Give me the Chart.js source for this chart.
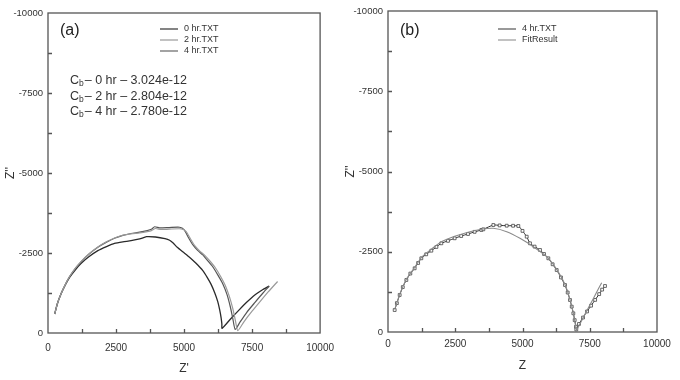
<!DOCTYPE html>
<html>
<head>
<meta charset="utf-8">
<script src="https://cdn.jsdelivr.net/npm/chart.js@4.4.0/dist/chart.umd.min.js"></script>
<style>
  html, body { margin: 0; padding: 0; background: #fff; }
  #wrap { position: relative; width: 680px; height: 380px; }
  .box { position: absolute; top: 0; width: 340px; height: 380px; }
</style>
</head>
<body>
<div id="wrap">
  <div class="box" style="left:0"><canvas id="chart-a"></canvas></div>
  <div class="box" style="left:340px"><canvas id="chart-b"></canvas></div>
</div>
<script>
// panel (a): Z' / Z'' pairs for each run
const hr0 = [[245,-594],[350,-930],[488,-1240],[640,-1510],[794,-1740],[1000,-1970],[1221,-2177],[1500,-2380],[1832,-2573],[2150,-2700],[2442,-2800],[2750,-2850],[3053,-2885],[3370,-2940],[3620,-3010],[3950,-3000],[4300,-2950],[4470,-2900],[4600,-2810],[4750,-2680],[4950,-2540],[5200,-2370],[5450,-2170],[5690,-1950],[5850,-1740],[5995,-1520],[6130,-1250],[6239,-980],[6310,-720],[6361,-480],[6390,-280],[6398,-146],[6700,-430],[7000,-700],[7300,-960],[7600,-1190],[7900,-1360],[8130,-1470]];
const hr2 = [[245,-594],[350,-930],[488,-1240],[640,-1520],[794,-1765],[1000,-2020],[1221,-2240],[1500,-2470],[1832,-2690],[2150,-2850],[2442,-2970],[2750,-3055],[3053,-3100],[3370,-3130],[3650,-3170],[3800,-3200],[3950,-3265],[4150,-3235],[4450,-3245],[4900,-3255],[5080,-3170],[5230,-2950],[5400,-2720],[5580,-2560],[5780,-2410],[5950,-2250],[6150,-2040],[6350,-1760],[6520,-1480],[6670,-1130],[6790,-770],[6880,-420],[6975,-75],[7200,-350],[7500,-680],[7800,-990],[8100,-1290],[8437,-1610]];
const hr4 = [[245,-594],[350,-930],[488,-1240],[640,-1520],[794,-1760],[1000,-2010],[1221,-2230],[1500,-2460],[1832,-2680],[2150,-2840],[2442,-2960],[2750,-3050],[3053,-3110],[3370,-3150],[3650,-3200],[3800,-3240],[3920,-3320],[4100,-3285],[4450,-3295],[4835,-3305],[5000,-3230],[5150,-3000],[5320,-2760],[5500,-2580],[5690,-2440],[5850,-2280],[6055,-2070],[6250,-1800],[6422,-1540],[6580,-1200],[6700,-820],[6790,-460],[6880,-110],[7050,-330],[7300,-640],[7600,-950],[7900,-1250],[8130,-1460]];

// panel (b): measured 4 hr data and the fitted curve
const hr4Data = [[248,-685],[330,-900],[434,-1153],[550,-1400],[682,-1620],[830,-1820],[991,-1984],[1120,-2150],[1239,-2296],[1420,-2420],[1611,-2533],[1800,-2650],[1983,-2763],[2230,-2840],[2478,-2919],[2720,-2990],[2974,-3053],[3220,-3120],[3469,-3178],[3544,-3199],[3916,-3333],[4150,-3320],[4413,-3312],[4650,-3310],[4845,-3302],[5000,-3150],[5156,-2969],[5279,-2763],[5450,-2660],[5651,-2555],[5800,-2430],[5960,-2296],[6120,-2110],[6271,-1931],[6430,-1700],[6580,-1464],[6680,-1230],[6766,-997],[6830,-790],[6890,-582],[6940,-370],[6989,-165],[7000,-80],[7100,-250],[7250,-450],[7400,-640],[7550,-820],[7700,-1000],[7850,-1180],[7960,-1320],[8067,-1433]];
const fitResult = [[248,-700],[434,-1170],[682,-1640],[991,-2010],[1239,-2320],[1611,-2580],[1983,-2810],[2478,-2980],[2974,-3110],[3469,-3200],[3916,-3230],[4413,-3125],[4907,-2919],[5402,-2657],[5899,-2346],[6271,-1950],[6580,-1480],[6766,-1010],[6890,-590],[6985,-150],[7010,-60],[7250,-440],[7500,-830],[7750,-1230],[7944,-1536]];

const xTickLabels = [0, 2500, 5000, 7500, 10000];
const yTickLabels = [0, -2500, -5000, -7500, -10000];
const cbNotes = ["0 hr \u2013 3.024e-12", "2 hr \u2013 2.804e-12", "4 hr \u2013 2.780e-12"];

const FONT = '"Liberation Sans", Arial, sans-serif';

function toPoints(arr) {
  return arr.map(p => ({ x: p[0], y: p[1] }));
}

// frame, inward ticks, panel tag, legend and notes
const framePlugin = {
  id: "frame",
  afterDraw(chart, args, opts) {
    const { ctx, chartArea: a, scales } = chart;
    ctx.save();
    ctx.strokeStyle = "#555";
    ctx.lineWidth = 1.3;
    ctx.strokeRect(a.left, a.top, a.right - a.left, a.bottom - a.top);
    ctx.beginPath();
    scales.x.ticks.forEach(t => {
      if (t.value <= scales.x.min || t.value >= scales.x.max) return;
      const px = Math.round(scales.x.getPixelForValue(t.value)) + 0.5;
      ctx.moveTo(px, a.bottom);
      ctx.lineTo(px, a.bottom - 4);
    });
    scales.y.ticks.forEach(t => {
      if (t.value <= scales.y.min || t.value >= scales.y.max) return;
      const py = Math.round(scales.y.getPixelForValue(t.value)) + 0.5;
      ctx.moveTo(a.left, py);
      ctx.lineTo(a.left + 4, py);
    });
    ctx.stroke();

    ctx.fillStyle = "#222";
    ctx.textBaseline = "middle";
    ctx.font = "16px " + FONT;
    ctx.fillText(opts.tag, 60, 31);

    ctx.font = "9px " + FONT;
    opts.legend.forEach((item, i) => {
      const ly = 29 + i * 11;
      ctx.strokeStyle = item.color;
      ctx.lineWidth = 1.2;
      ctx.beginPath();
      ctx.moveTo(opts.legendX, ly);
      ctx.lineTo(opts.legendX + 18, ly);
      ctx.stroke();
      ctx.fillStyle = "#333";
      ctx.fillText(item.label, opts.legendX + 24, ly);
    });

    (opts.notes || []).forEach((note, i) => {
      let nx = 70;
      const ny = 81 + i * 15.5;
      ctx.fillStyle = "#333";
      ctx.font = "12.5px " + FONT;
      ctx.fillText("C", nx, ny);
      nx += ctx.measureText("C").width;
      ctx.font = "8.5px " + FONT;
      ctx.fillText("b", nx, ny + 3);
      nx += ctx.measureText("b").width + 1;
      ctx.font = "12.5px " + FONT;
      ctx.fillText("\u2013 " + note, nx, ny);
    });
    ctx.restore();
  }
};

function buildChart(id, datasets, cfg) {
  return new Chart(document.getElementById(id), {
    type: "scatter",
    data: { datasets: datasets },
    options: {
      responsive: true,
      maintainAspectRatio: false,
      animation: false,
      layout: { padding: { left: 0, top: cfg.top, right: cfg.right, bottom: 0 } },
      plugins: {
        legend: { display: false },
        tooltip: { enabled: false },
        frame: cfg
      },
      scales: {
        x: {
          type: "linear", min: 0, max: 10000,
          grid: { display: false, drawTicks: false },
          border: { display: false },
          ticks: {
            stepSize: 1250, autoSkip: false, maxRotation: 0, padding: 6,
            color: "#333", font: { family: FONT, size: 10, lineHeight: cfg.xTickLh },
            callback: v => xTickLabels.includes(v) ? String(v) : ""
          },
          title: {
            display: true, text: cfg.xTitle, color: "#333",
            font: { family: FONT, size: 12 },
            padding: { top: 0, bottom: cfg.xTitlePad }
          },
          afterFit: s => { s.height = 380 - cfg.bottom; }
        },
        y: {
          type: "linear", min: -10000, max: 0, reverse: true,
          grid: { display: false, drawTicks: false },
          border: { display: false },
          ticks: {
            stepSize: 1250, autoSkip: false, padding: 5,
            color: "#333", font: { family: FONT, size: 9.5 },
            callback: v => yTickLabels.includes(v) ? String(v) : ""
          },
          title: {
            display: true, text: "Z''", color: "#333",
            font: { family: FONT, size: 12 },
            padding: { top: 3, bottom: 0 }
          },
          afterFit: s => { s.width = 48; }
        }
      }
    },
    plugins: [framePlugin]
  });
}

function lineSet(label, arr, color, width) {
  return {
    label: label, data: toPoints(arr), showLine: true,
    borderColor: color, borderWidth: width, pointRadius: 0,
    tension: 0.2, fill: false
  };
}

buildChart("chart-a", [
  lineSet("2 hr.TXT", hr2, "#9a9a9a", 1.2),
  lineSet("4 hr.TXT", hr4, "#555", 1.2),
  lineSet("0 hr.TXT", hr0, "#2a2a2a", 1.3)
], {
  top: 13, right: 19, bottom: 333, xTitle: "Z'", xTitlePad: 4, xTickLh: 1.8,
  tag: "(a)", legendX: 160,
  legend: [
    { label: "0 hr.TXT", color: "#333" },
    { label: "2 hr.TXT", color: "#999" },
    { label: "4 hr.TXT", color: "#666" }
  ],
  notes: cbNotes
});

buildChart("chart-b", [
  lineSet("FitResult", fitResult, "#8a8a8a", 1.1),
  Object.assign(lineSet("4 hr.TXT", hr4Data, "#333", 1), {
    pointRadius: 2, pointStyle: "rect",
    pointBackgroundColor: "#fff", pointBorderColor: "#444", pointBorderWidth: 0.8
  })
], {
  top: 11, right: 23, bottom: 332, xTitle: "Z", xTitlePad: 7, xTickLh: 1.2,
  tag: "(b)", legendX: 158,
  legend: [
    { label: "4 hr.TXT", color: "#555" },
    { label: "FitResult", color: "#999" }
  ]
});
</script>
</body>
</html>
